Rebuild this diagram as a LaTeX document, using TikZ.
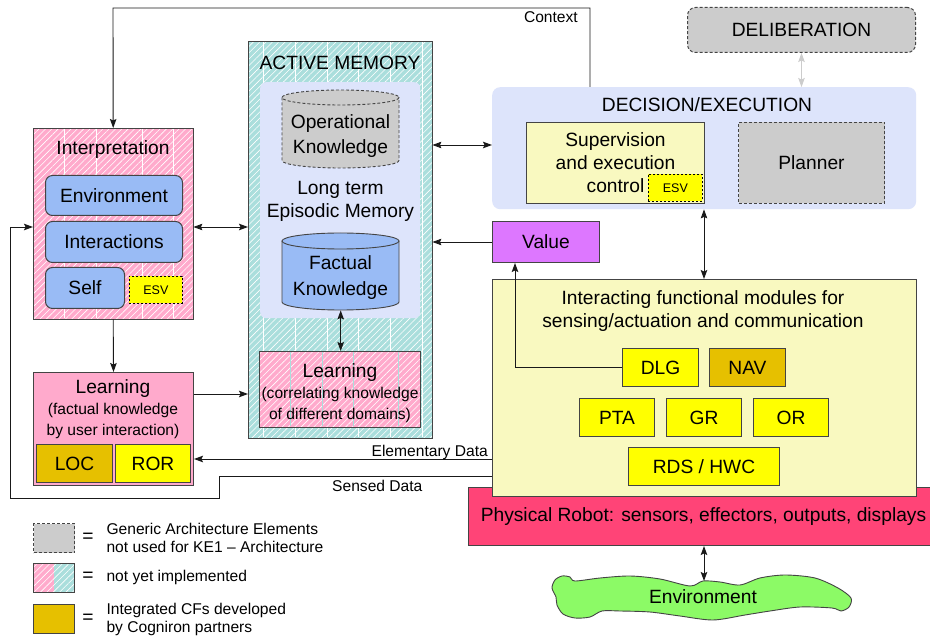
\documentclass[tikz,border=0pt]{standalone}
\usepackage{fontspec}
\setmainfont{Liberation Sans}
\usetikzlibrary{arrows.meta,patterns.meta}

\definecolor{pinkF}{HTML}{FFAACC}
\definecolor{cyanF}{HTML}{AADEDC}
\definecolor{lavF}{HTML}{DDE4FB}
\definecolor{blueF}{HTML}{99BBF5}
\definecolor{grayF}{HTML}{CCCCCC}
\definecolor{yelF}{HTML}{FFFF00}
\definecolor{dkyelF}{HTML}{E6C000}
\definecolor{ltyelF}{HTML}{F9F9C0}
\definecolor{purF}{HTML}{DD77FF}
\definecolor{robF}{HTML}{FF4477}
\definecolor{envF}{HTML}{8CFA66}
\definecolor{edge}{HTML}{444444}

\newcommand\fbig{\fontsize{19.2}{23}\selectfont}
\newcommand\fmid{\fontsize{15.6}{21}\selectfont}
\newcommand\fleg{\fontsize{15.6}{18}\selectfont}
\newcommand\fesv{\fontsize{12.5}{14}\selectfont}

\tikzset{
  >={Stealth[length=9pt,width=6.5pt,inset=1.5pt]},
  box/.style={draw=edge, line width=1pt, inner sep=0pt, anchor=north west},
  % filled, white-hatched, then outlined (outline on top of the hatch)
  hbox/.style={fill=#1, inner sep=0pt, anchor=north west,
    postaction={pattern={Lines[angle=45,distance=4.5pt,line width=0.6pt]}, pattern color=white},
    postaction={draw=edge, line width=1pt}},
  hatched/.style={fill=#1, postaction={pattern={Lines[angle=45,distance=4.5pt,line width=0.6pt]}, pattern color=white}},
  generic/.style={box, fill=grayF, dashed, dash pattern=on 3pt off 2pt},
  esvbox/.style={draw=black, fill=yelF, line width=0.8pt, dash pattern=on 2pt off 2pt, inner sep=0pt, anchor=north west, font=\fesv},
  conn/.style={draw=black!90, line width=0.9pt},
  lbl/.style={font=\fmid, inner sep=0pt},
  vline/.style={draw=#1, line width=0.9pt},
}

\begin{document}
\begin{tikzpicture}[x=1pt, y=-1pt, font=\fbig]
\useasboundingbox (0,0) rectangle (930,639);
\fill[white] (0,0) rectangle (930,639);

% reference heights / abscissas for the connectors
\coordinate (yIA) at (0,227);
\coordinate (yLA) at (0,394);
\coordinate (yED) at (0,459);
\coordinate (ySD) at (0,476);
\coordinate (yAD) at (0,145);
\coordinate (xCtx) at (590,0);
\coordinate (xDF) at (704,0);
\coordinate (xDV) at (515,0);
\coordinate (ctxTop) at (113,8);
\coordinate (sdA) at (219,498);
\coordinate (sdB) at (10,227);

% ---------- Interpretation ----------
\node[hbox=pinkF, minimum width=160, minimum height=191] (interp) at (33,128) {};
\foreach \x in {64,96,142,173} \draw[vline=white] (\x,129) -- (\x,318);
\node at (113,150) {Interpretation};
\node[box, fill=blueF, rounded corners=7pt, minimum width=137, minimum height=40] (envI) at (45,175) {Environment};
\node[box, fill=blueF, rounded corners=7pt, minimum width=137, minimum height=41] (interI) at (45,221) {Interactions};
\node[box, fill=blueF, rounded corners=7pt, minimum width=79, minimum height=41] (selfI) at (45,267) {Self};
\node[esvbox, minimum width=53, minimum height=27] (esvA) at (129,276) {ESV};

% ---------- Learning (user interaction) ----------
\node[box, fill=pinkF, minimum width=160, minimum height=113] (learnL) at (33,372) {};
\node at (113,389) {Learning};
\node[font=\fmid, align=center] at (113,420.5) {(factual knowledge\\by user interaction)};
\node[box, fill=dkyelF, minimum width=76, minimum height=38] (loc) at (36,444) {LOC};
\node[box, fill=yelF, minimum width=75, minimum height=38] (ror) at (115,444) {ROR};

% ---------- Active memory ----------
\node[hbox=cyanF, minimum width=184, minimum height=397] (am) at (248,41) {};
\foreach \x in {263,295,327,358,390,422} \draw[vline=white] (\x,42) -- (\x,437);
\node at (340,63) {ACTIVE MEMORY};
\node[fill=lavF, rounded corners=6pt, inner sep=0pt, anchor=north west, minimum width=160, minimum height=236] (ltm) at (260,82) {};

% operational knowledge store
\fill[grayF] (282,97.5) -- (282,160.5) arc[start angle=180,end angle=0,x radius=58.5,y radius=7.5]
  -- (399,97.5) arc[start angle=0,end angle=-180,x radius=58.5,y radius=7.5] -- cycle;
\draw[edge, line width=0.9pt, dash pattern=on 3pt off 2pt] (282,97.5) -- (282,160.5)
  arc[start angle=180,end angle=0,x radius=58.5,y radius=7.5] -- (399,97.5);
\draw[edge, line width=0.9pt, dash pattern=on 3pt off 2pt] (340.5,97.5) ellipse[x radius=58.5, y radius=7.5];
\node[align=center, font=\fontsize{19.2}{25}\selectfont] (opk) at (340.5,136) {Operational\\Knowledge};

\node[align=center] (ltmL) at (340.5,201) {Long term\\Episodic Memory};

% factual knowledge store
\fill[blueF] (282,241) -- (282,302) arc[start angle=180,end angle=0,x radius=58.5,y radius=8]
  -- (399,241) arc[start angle=0,end angle=-180,x radius=58.5,y radius=8] -- cycle;
\draw[edge, line width=0.9pt] (282,241) -- (282,302)
  arc[start angle=180,end angle=0,x radius=58.5,y radius=8] -- (399,241);
\draw[edge, line width=0.9pt] (340.5,241) ellipse[x radius=58.5, y radius=8];
\node[inner sep=0pt, anchor=north west, minimum width=117, minimum height=77] (fk) at (282,233) {};
\node[align=center, font=\fontsize{19.2}{26}\selectfont] at (340.5,278) {Factual\\Knowledge};

% learning across domains
\node[hbox=pinkF, minimum width=161, minimum height=76] (lrnA) at (259,351) {};
\foreach \x in {290,322,353,398} \draw[vline=cyanF] (\x,352) -- (\x,426);
\node at (340,373) {Learning};
\node[font=\fmid, align=center] at (340,405) {(correlating knowledge\\of different domains)};

% ---------- Decision / execution ----------
\node[box, generic, rounded corners=8pt, minimum width=228, minimum height=45] (delib) at (687,7) {DELIBERATION};
\node[fill=lavF, rounded corners=8pt, inner sep=0pt, anchor=north west, minimum width=424, minimum height=122] (dec) at (492,87) {};
\node at (707,105) {DECISION/EXECUTION};
\node[box, fill=ltyelF, align=center, minimum width=178, minimum height=81] (sup) at (526,122) {Supervision\\and execution\\control};
\node[esvbox, minimum width=54, minimum height=27] (esvB) at (648,174) {ESV};
\node[generic, minimum width=146, minimum height=81] (plan) at (738,122) {Planner};

\node[box, fill=purF, minimum width=107, minimum height=41] (value) at (492,221) {Value};

% ---------- Robot and functional modules ----------
\node[box, fill=robF, minimum width=475, minimum height=58] (robot) at (468,487) {};
\node at (703.5,517) {Physical Robot: sensors, effectors, outputs, displays};
\node[box, fill=ltyelF, minimum width=424, minimum height=217] (func) at (492,279) {};
\node[align=center] at (703,311) {Interacting functional modules for\\sensing/actuation and communication};
\node[box, fill=yelF, minimum width=76, minimum height=38] (dlg) at (622,348) {DLG};
\node[box, fill=dkyelF, minimum width=76, minimum height=38] (nav) at (709,348) {NAV};
\node[box, fill=yelF, minimum width=75, minimum height=38] (pta) at (579,398) {PTA};
\node[box, fill=yelF, minimum width=75, minimum height=38] (gr) at (666,398) {GR};
\node[box, fill=yelF, minimum width=75, minimum height=38] (or) at (753,398) {OR};
\node[box, fill=yelF, minimum width=151, minimum height=38] (rds) at (628,447) {RDS / HWC};

% ---------- Environment ----------
\draw[edge, line width=0.9pt, fill=envF] plot[smooth cycle, tension=0.5] coordinates {
  (552,588) (555,580) (562,576) (570,577) (575,581) (600,578) (630,576) (660,579)
  (690,586) (703,581) (720,582) (740,585) (760,578) (785,575) (815,578) (838,588)
  (851,598) (849,607) (841,611) (832,608) (800,607) (770,611) (745,615) (713,620)
  (680,616) (650,612) (620,611) (602,611) (590,617) (575,618) (563,614) (557,605)
  (556,597)};
\node (envO) at (703,597) {Environment};
\coordinate (envTop) at (704,581);

% ---------- Connectors ----------
\draw[conn,->] (dec.north -| xCtx) |- (ctxTop) -- (interp.north);
\draw[conn,->] (func.west |- ySD) -| (sdA) -| (sdB) -- (interp.west |- yIA);
\draw[conn,<->] (interp.east |- yIA) -- (am.west |- yIA);
\draw[conn,->] (interp.south) -- (learnL.north);
\draw[conn,->] (learnL.east |- yLA) -- (am.west |- yLA);
\draw[conn,->] (func.west |- yED) -- (learnL.east |- yED);
\draw[conn,<->] (fk.south) -- (fk.south |- lrnA.north);
\draw[conn,<->] (am.east |- yAD) -- (dec.west |- yAD);
\draw[conn,->] (value.west) -- (am.east |- value.west);
\draw[conn,<->] (dec.south -| xDF) -- (func.north -| xDF);
\draw[conn,->] (dlg.west) -| (value.south -| xDV);
\draw[draw=grayF, line width=0.9pt, {Stealth[length=9pt,width=6.5pt,inset=1.5pt,color=grayF]}-{Stealth[length=9pt,width=6.5pt,inset=1.5pt,color=grayF]}] (delib.south) -- (delib.south |- dec.north);
\draw[conn,<->] (robot.south -| xDF) -- (envTop);

% connector labels
\node[lbl, anchor=base east] at (578,23) {Context};
\node[lbl, anchor=base east] at (488,456) {Elementary Data};
\node[lbl, anchor=base west] at (332,491) {Sensed Data};

% ---------- Legend ----------
\node[generic, minimum width=41, minimum height=29] (lg1) at (33,523) {};
\node at (88,538) {=};
\node[font=\fleg, align=left, anchor=west] at (103,538) {Generic Architecture Elements\\not used for KE1 – Architecture};

\path[hatched=pinkF] (33,563) rectangle (54,592);
\path[hatched=cyanF] (54,563) rectangle (74,592);
\node[box, minimum width=41, minimum height=29] (lg2) at (33,563) {};
\node at (88,577) {=};
\node[font=\fleg, anchor=west] at (103,577) {not yet implemented};

\node[box, fill=dkyelF, minimum width=41, minimum height=29] (lg3) at (33,604) {};
\node at (88,619) {=};
\node[font=\fleg, align=left, anchor=west] at (103,619) {Integrated CFs developed\\by Cogniron partners};
\end{tikzpicture}
\end{document}
